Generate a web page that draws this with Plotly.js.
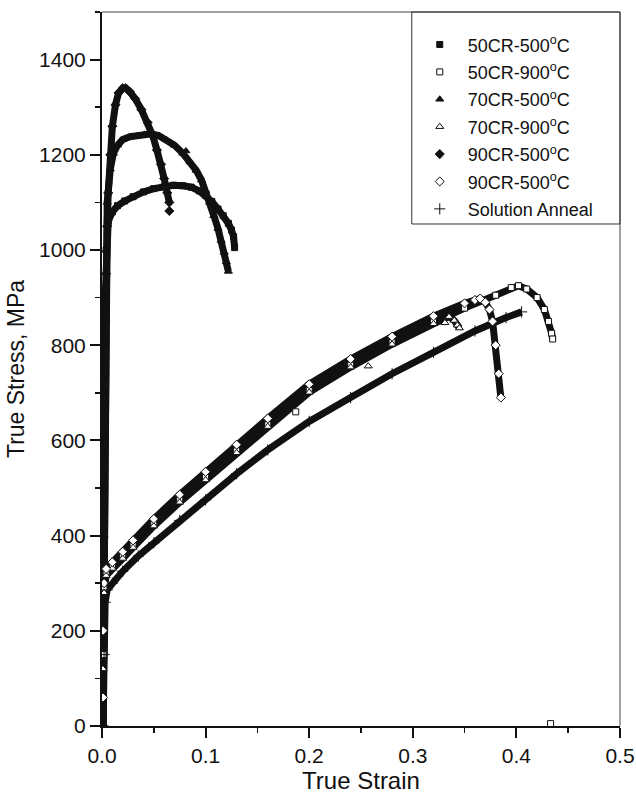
<!DOCTYPE html>
<html>
<head>
<meta charset="utf-8">
<script src="https://cdn.plot.ly/plotly-3.0.1.min.js"></script>
<style>html,body{margin:0;padding:0;background:#fff;}#chart{width:636px;height:799px;}</style>
</head>
<body>
<div id="chart"></div>
<script>
// ---- data (True Strain, True Stress MPa) ----
// null entries only break the drawn curve before isolated points
const seriesNames = ['50CR-500<sup>o</sup>C','50CR-900<sup>o</sup>C','70CR-500<sup>o</sup>C','70CR-900<sup>o</sup>C','90CR-500<sup>o</sup>C','90CR-500<sup>o</sup>C','Solution Anneal'];

const x50CR500 = [0.001,0.001,0.002,0.002,0.003,0.004,0.006,0.010,0.015,0.022,0.030,0.040,0.050,0.060,0.069,0.078,0.086,0.094,0.100,0.106,0.112,0.117,0.122,0.125,0.127,0.128];
const y50CR500 = [100,300,500,700,900,1000,1060,1080,1093,1103,1112,1122,1129,1133,1136,1135,1132,1124,1115,1102,1086,1072,1056,1042,1028,1005];

const x50CR900 = [0.001,0.001,0.002,0.004,0.010,0.020,0.030,0.050,0.075,0.100,0.130,0.160,0.200,0.240,0.280,0.320,0.350,0.380,0.395,0.402,0.410,0.420,0.427,0.431,0.434,0.435,null,0.187,null,0.433];
const y50CR900 = [0,150,290,322,336,357,380,425,475,522,578,633,705,758,806,849,878,905,921,925,918,900,875,850,825,813,null,660,null,5];

const x70CR500 = [0.001,0.002,0.003,0.004,0.005,0.008,0.011,0.015,0.020,0.027,0.034,0.041,0.048,0.055,0.062,0.070,0.078,0.085,0.091,0.096,0.100,0.104,0.108,0.112,0.115,0.118,0.120,0.122,null,0.081];
const y70CR500 = [0,400,800,1000,1100,1170,1203,1220,1232,1238,1240,1243,1244,1240,1232,1220,1203,1185,1167,1147,1125,1100,1072,1045,1020,995,975,955,null,1208];

const x70CR900 = [0.001,0.001,0.002,0.004,0.010,0.020,0.030,0.050,0.075,0.100,0.130,0.160,0.200,0.240,0.280,0.320,0.335,0.340,0.343,0.345,null,0.257,null,0.331];
const y70CR900 = [0,120,280,316,331,352,375,420,470,517,574,629,701,754,802,845,860,852,842,836,null,756,null,847];

const x90CR500f = [0.001,0.002,0.002,0.003,0.004,0.005,0.006,0.008,0.010,0.013,0.016,0.020,0.023,0.027,0.032,0.038,0.044,0.049,0.053,0.057,0.060,0.063,0.065,null,0.065];
const y90CR500f = [0,300,600,850,950,1050,1120,1200,1260,1305,1330,1340,1340,1332,1318,1295,1268,1240,1210,1180,1150,1120,1100,null,1082];

const x90CR500o = [0.001,0.001,0.002,0.004,0.010,0.020,0.030,0.050,0.075,0.100,0.130,0.160,0.200,0.240,0.280,0.320,0.350,0.360,0.365,0.370,0.374,0.377,0.380,0.383,0.385];
const y90CR500o = [60,200,300,330,344,366,390,435,486,534,591,646,718,771,818,861,888,895,898,890,875,850,800,740,690];

const xSA = [0.001,0.002,0.003,0.005,0.010,0.020,0.035,0.050,0.075,0.100,0.130,0.160,0.200,0.240,0.280,0.320,0.360,0.390,0.405];
const ySA = [0,150,260,286,300,325,357,385,432,475,530,580,640,690,740,785,830,858,870];

const xData = [x50CR500,x50CR900,x70CR500,x70CR900,x90CR500f,x90CR500o,xSA];
const yData = [y50CR500,y50CR900,y70CR500,y70CR900,y90CR500f,y90CR500o,ySA];

// ---- styling ----
const symbols = ['square','square','triangle-up','triangle-up','diamond','diamond','cross-thin'];
const fills   = ['#111','#fff','#111','#fff','#111','#fff','#111'];
const sizes   = [6,6,7,7,7,7,8];
const FONT = 'Liberation Sans, Arial, Helvetica, sans-serif';

const traces = [];
for (let i = 0; i < xData.length; i++) {
  traces.push({
    x: xData[i], y: yData[i], type: 'scatter', mode: 'lines',
    line: {color: '#111', width: 7}, connectgaps: false,
    legendgroup: 'g' + i, showlegend: false, hoverinfo: 'skip'
  });
}
for (let i = 0; i < xData.length; i++) {
  traces.push({
    x: xData[i], y: yData[i], type: 'scatter', mode: 'markers',
    name: seriesNames[i], legendgroup: 'g' + i,
    marker: {symbol: symbols[i], size: sizes[i], color: fills[i],
             line: {color: '#111', width: 1}}
  });
}

const layout = {
  width: 636, height: 799,
  margin: {l: 102, r: 16, t: 12, b: 73},
  paper_bgcolor: '#fff', plot_bgcolor: '#fff',
  font: {family: FONT, color: '#111', size: 18},
  showlegend: true,
  legend: {
    x: 0.598, y: 0.980, xanchor: 'left', yanchor: 'top',
    bgcolor: 'rgba(0,0,0,0)', borderwidth: 0,
    font: {family: FONT, size: 18, color: '#111'},
    traceorder: 'grouped', tracegroupgap: 1, itemwidth: 46
  },
  xaxis: {
    range: [0, 0.5], dtick: 0.1, tick0: 0, tickformat: '.1f',
    showline: true, linecolor: '#111', linewidth: 2, mirror: false,
    ticks: 'outside', ticklen: 10, tickwidth: 2, tickcolor: '#111',
    minor: {dtick: 0.05, ticks: 'outside', ticklen: 5, tickwidth: 1.5, tickcolor: '#111'},
    showgrid: false, zeroline: false,
    tickfont: {family: FONT, size: 21, color: '#111'},
    title: {text: 'True Strain', font: {family: FONT, size: 24, color: '#111'}, standoff: 2}
  },
  yaxis: {
    range: [0, 1500], dtick: 200, tick0: 0,
    showline: true, linecolor: '#111', linewidth: 2, mirror: false,
    ticks: 'outside', ticklen: 10, tickwidth: 2, tickcolor: '#111',
    minor: {dtick: 100, ticks: 'outside', ticklen: 5, tickwidth: 1.5, tickcolor: '#111'},
    showgrid: false, zeroline: false,
    tickfont: {family: FONT, size: 21, color: '#111'},
    title: {text: 'True Stress, MPa', font: {family: FONT, size: 23, color: '#111'}, standoff: 8}
  },
  shapes: [
    {type: 'line', xref: 'paper', yref: 'paper', x0: 0, x1: 1, y0: 1, y1: 1, line: {color: '#444', width: 1}},
    {type: 'line', xref: 'paper', yref: 'paper', x0: 1, x1: 1, y0: 0, y1: 1, line: {color: '#444', width: 1}},
    {type: 'rect', xref: 'paper', yref: 'paper', x0: 0.598, x1: 1, y0: 0.7031, y1: 1, line: {color: '#333', width: 1}, fillcolor: 'rgba(0,0,0,0)'}
  ]
};

Plotly.newPlot('chart', traces, layout, {staticPlot: true, displayModeBar: false});
</script>
</body>
</html>
